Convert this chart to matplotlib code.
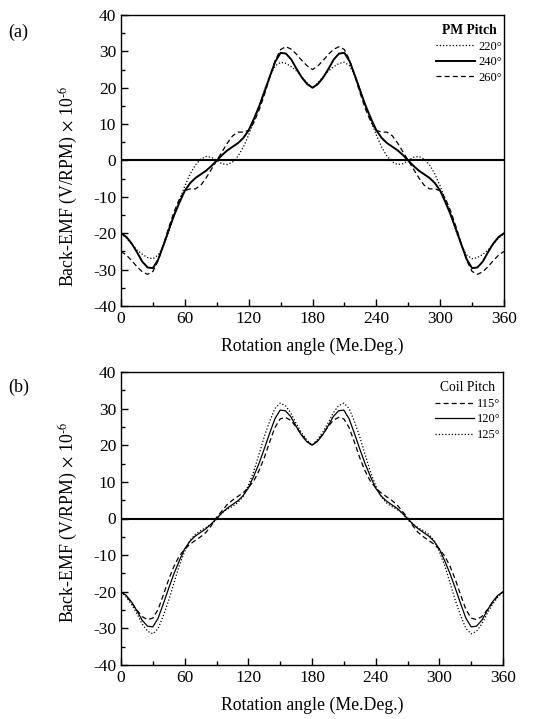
import matplotlib
matplotlib.use("Agg")
import matplotlib.pyplot as plt
import numpy as np

angle = list(range(0, 361, 5))

# Panel (a): PM pitch
pm_220 = [-20, -21.3, -23, -24.6, -25.8, -26.7, -27, -26, -23.3, -19.5, -15, -10.8, -7, -3.7, -1.2, 0.4, 1.1, 0.9, 0,
          -0.9, -1.1, -0.4, 1.2, 3.7, 7, 10.8, 15, 19.5, 23.3, 26, 27, 26.7, 25.8, 24.6, 23, 21.3, 20,
          21.3, 23, 24.6, 25.8, 26.7, 27, 26, 23.3, 19.5, 15, 10.8, 7, 3.7, 1.2, -0.4, -1.1, -0.9, 0,
          0.9, 1.1, 0.4, -1.2, -3.7, -7, -10.8, -15, -19.5, -23.3, -26, -27, -26.7, -25.8, -24.6, -23, -21.3, -20]
pm_240 = [-20, -21, -22.8, -25.2, -27.8, -29.4, -29.6, -27.2, -23.2, -19, -15, -11.5, -8.3, -6.2, -4.8, -3.8, -2.8, -1.5, 0,
          1.5, 2.8, 3.8, 4.8, 6.2, 8.3, 11.5, 15, 19, 23.2, 27.2, 29.6, 29.4, 27.8, 25.2, 22.8, 21, 20,
          21, 22.8, 25.2, 27.8, 29.4, 29.6, 27.2, 23.2, 19, 15, 11.5, 8.3, 6.2, 4.8, 3.8, 2.8, 1.5, 0,
          -1.5, -2.8, -3.8, -4.8, -6.2, -8.3, -11.5, -15, -19, -23.2, -27.2, -29.6, -29.4, -27.8, -25.2, -22.8, -21, -20]
pm_260 = [-25, -26, -27.5, -29.2, -30.6, -31.3, -30.5, -27.5, -23, -18.3, -14, -10.5, -8.3, -7.8, -7.8, -6.8, -4.8, -2.4, 0,
          2.4, 4.8, 6.8, 7.8, 7.8, 8.3, 10.5, 14, 18.3, 23, 27.5, 30.5, 31.3, 30.6, 29.2, 27.5, 26, 25,
          26, 27.5, 29.2, 30.6, 31.3, 30.5, 27.5, 23, 18.3, 14, 10.5, 8.3, 7.8, 7.8, 6.8, 4.8, 2.4, 0,
          -2.4, -4.8, -6.8, -7.8, -7.8, -8.3, -10.5, -14, -18.3, -23, -27.5, -30.5, -31.3, -30.6, -29.2, -27.5, -26, -25]

# Panel (b): coil pitch
coil_115 = [-20, -21.2, -23, -25, -26.8, -27.6, -27.2, -24.8, -20.8, -16.6, -13, -10.2, -8.4, -7, -6, -5, -3.8, -2, 0.3,
            2, 3.8, 5, 6, 7, 8.4, 10.2, 13, 16.6, 20.8, 24.8, 27.2, 27.6, 26.8, 25, 23, 21.2, 20,
            21.2, 23, 25, 26.8, 27.6, 27.2, 24.8, 20.8, 16.6, 13, 10.2, 8.4, 7, 6, 5, 3.8, 2, 0.3,
            -2, -3.8, -5, -6, -7, -8.4, -10.2, -13, -16.6, -20.8, -24.8, -27.2, -27.6, -26.8, -25, -23, -21.2, -20]
coil_120 = pm_240[:]
coil_125 = [-20, -21.5, -23.5, -26, -28.8, -30.8, -31.5, -30, -26.5, -22.3, -17.5, -12.8, -9, -6, -4.3, -3.3, -2.5, -1.5, -0.3,
            1.5, 2.5, 3.3, 4.3, 6, 9, 12.8, 17.5, 22.3, 26.5, 30, 31.5, 30.8, 28.8, 26, 23.5, 21.5, 20,
            21.5, 23.5, 26, 28.8, 30.8, 31.5, 30, 26.5, 22.3, 17.5, 12.8, 9, 6, 4.3, 3.3, 2.5, 1.5, -0.3,
            -1.5, -2.5, -3.3, -4.3, -6, -9, -12.8, -17.5, -22.3, -26.5, -30, -31.5, -30.8, -28.8, -26, -23.5, -21.5, -20]

x_ticks = [0, 60, 120, 180, 240, 300, 360]
y_ticks = [-40, -30, -20, -10, 0, 10, 20, 30, 40]

plt.rcParams['font.family'] = ['Liberation Serif', 'DejaVu Serif']
plt.rcParams['mathtext.fontset'] = 'stix'
plt.rcParams['axes.unicode_minus'] = False

fig = plt.figure(figsize=(5.42, 7.19), dpi=100)
W, H = 542, 719

def make_ax(left, top, right, bottom):
    return fig.add_axes([left / W, 1 - bottom / H, (right - left) / W, (bottom - top) / H])

ax_a = make_ax(121, 15, 504, 306)
ax_b = make_ax(121, 372, 503, 665)

dot = (0, (1, 1.6))
dash = (0, (4, 2.5))

ax_a.plot(angle, pm_220, color='black', lw=0.9, linestyle=dot, label='220°')
ax_a.plot(angle, pm_240, color='black', lw=1.4, linestyle='-', label='240°')
ax_a.plot(angle, pm_260, color='black', lw=0.9, linestyle=dash, label='260°')

ax_b.plot(angle, coil_115, color='black', lw=0.9, linestyle=dash, label='115°')
ax_b.plot(angle, coil_120, color='black', lw=0.9, linestyle='-', label='120°')
ax_b.plot(angle, coil_125, color='black', lw=0.9, linestyle=dot, label='125°')

for ax, title, bold, tag, ylab_y in [(ax_a, 'PM Pitch', True, '(a)', 0.41), (ax_b, 'Coil Pitch', False, '(b)', 0.488)]:
    ax.axhline(0, color='black', lw=1.5, zorder=1)
    ax.set_xlim(0, 360)
    ax.set_ylim(-40, 40)
    ax.set_xticks(x_ticks)
    ax.set_yticks(y_ticks)
    ax.set_xticks(range(30, 360, 60), minor=True)
    ax.set_yticks(range(-35, 40, 10), minor=True)
    ax.tick_params(which='both', direction='in', top=False, right=False, labelsize=12.5)
    ax.tick_params(which='major', length=5, width=1)
    ax.tick_params(which='minor', length=3, width=1)
    for s in ax.spines.values():
        s.set_linewidth(1.0)
    ax.set_xlabel('Rotation angle (Me.Deg.)', fontsize=12.8, labelpad=8)
    ax.set_ylabel('Back-EMF (V/RPM)$\\,\\times\\,$10$^{\\text{-6}}$', fontsize=12.8)
    ax.yaxis.set_label_coords(-0.107, ylab_y)
    leg = ax.legend(title=title, loc='upper right', bbox_to_anchor=(0.995, 0.968), frameon=False,
                    fontsize=9, handlelength=3.1, handletextpad=0.3, labelspacing=0.28,
                    borderpad=0, borderaxespad=0)
    leg.get_title().set_fontsize(9.8)
    if bold:
        leg.get_title().set_fontweight('bold')
    fig.text(8 / W, 1 - (32 if tag == '(a)' else 387) / H, tag, fontsize=13, va='center', ha='left')

fig.savefig('out.png', dpi=100)
